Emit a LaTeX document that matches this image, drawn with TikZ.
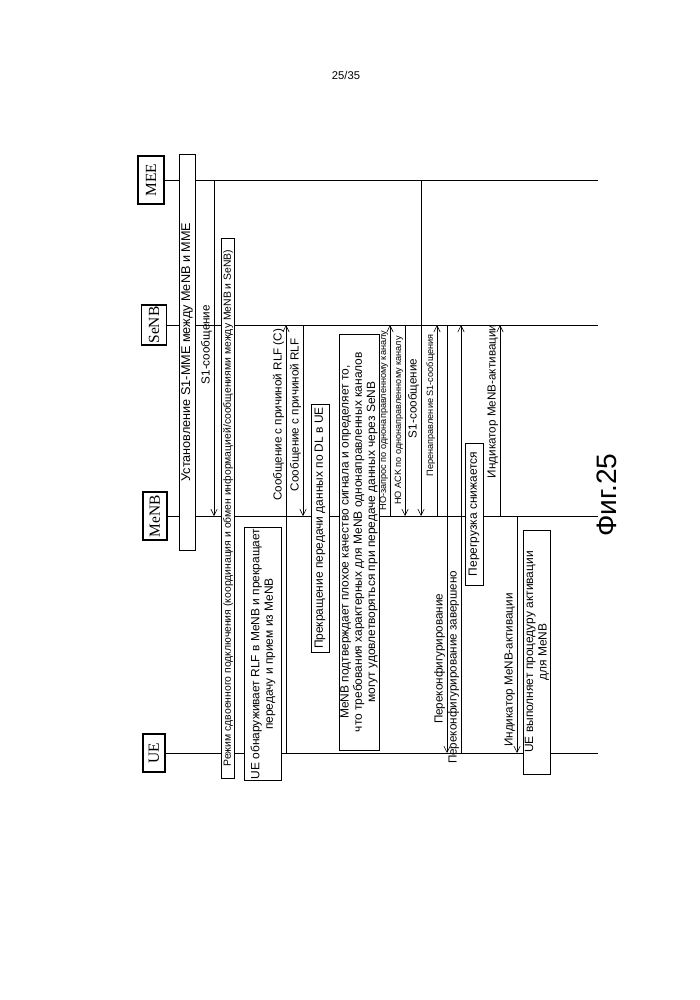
\documentclass[tikz,border=0pt]{standalone}
\usepackage{fontspec}
\setmainfont{Liberation Sans}
\newfontfamily\entfont{Liberation Serif}
\usetikzlibrary{arrows.meta}
\tikzset{
  entity/.style={draw, thick, rotate=90, font=\entfont\fontsize{11}{12}\selectfont, inner sep=1pt},
  note/.style={draw, fill=white, rotate=90, font=\fontsize{8.5}{9.5}\selectfont, inner sep=1pt, align=center},
  msg/.style={-{Straight Barb[length=1.6mm,width=1.6mm]}},
  lbl/.style={rotate=90, anchor=south, font=\fontsize{8.3}{9}\selectfont, inner sep=1.2pt},
  slbl/.style={lbl, font=\fontsize{6.5}{7}\selectfont}
}
\begin{document}
\begin{tikzpicture}[x=0.025cm, y=-0.025cm]
  \useasboundingbox (0,0) rectangle (699,1000);
  \node (page) at (346,75) {\fontsize{8}{9}\selectfont 25/35};

  % Entities
  \node[entity, minimum width=0.95cm, minimum height=0.55cm] (ue) at (154,753) {UE};
  \node[entity, minimum width=1.2cm, minimum height=0.6cm] (menb) at (155,516) {MeNB};
  \node[entity, minimum width=1.0cm, minimum height=0.62cm] (senb) at (154,325) {SeNB};
  \node[entity, minimum width=1.2cm, minimum height=0.65cm] (mme) at (151,180) {MEE};

  % Lifelines
  \draw (ue.south) -- (598,753);
  \draw (menb.south) -- (598,516);
  \draw (senb.south) -- (598,325);
  \draw (mme.south) -- (598,180);

  % Notes
  \node[note, minimum width=9.9cm, minimum height=0.4cm] (setup) at (187,352) {\fontsize{9}{10}\selectfont Установление S1-MME между MeNB и MME};
  \node[note, minimum width=13.5cm, minimum height=0.3cm, font=\fontsize{7.4}{8.5}\selectfont] (dc) at (228,508) {Режим сдвоенного подключения (координация и обмен информацией/сообщениями между MeNB и SeNB)};
  \node[note, minimum width=6.2cm, minimum height=0.92cm] (detect) at (263,654) {UE обнаруживает RLF в MeNB и прекращает\\передачу и прием из MeNB};
  \node[note, minimum width=6.2cm, minimum height=0.45cm] (stop) at (320,528) {Прекращение передачи данных по DL в UE};
  \node[note, minimum width=10.4cm, minimum height=0.95cm] (confirm) at (359,542) {MeNB подтверждает плохое качество сигнала и определяет то,\\что требования характерных для MeNB однонаправленных каналов\\могут удовлетворяться при передаче данных через SeNB};
  \node[note, minimum width=3.55cm, minimum height=0.45cm] (relief) at (474,514) {Перегрузка снижается};
  \node[note, minimum width=6.1cm, minimum height=0.68cm] (activ) at (537,652) {UE выполняет процедуру активации\\для MeNB};

  % Messages
  \draw[msg] (214,0 |- mme) -- node[lbl, pos=0.49] {S1-сообщение} (214,0 |- menb);
  \draw[msg] (286,0 |- ue) -- node[lbl, pos=0.79] {Сообщение с причиной RLF (C)} (286,0 |- senb);
  \draw[msg] (303,0 |- senb) -- node[lbl, pos=0.47] {Сообщение с причиной RLF} (303,0 |- menb);
  \draw[msg] (390,0 |- menb) -- node[slbl, pos=0.5] {HO-запрос по однонаправленному каналу} (390,0 |- senb);
  \draw[msg] (405,0 |- senb) -- node[slbl, pos=0.5] {HO ACK по однонаправленному каналу} (405,0 |- menb);
  \draw[msg] (421,0 |- mme) -- node[lbl, pos=0.65] {S1-сообщение} (421,0 |- menb);
  \draw[msg] (437,0 |- menb) -- node[slbl, pos=0.58] {Перенаправление S1-сообщения} (437,0 |- senb);
  \draw[msg] (447,0 |- senb) -- node[lbl, pos=0.78] {Переконфигурирование} (447,0 |- ue);
  \draw[msg] (461,0 |- ue) -- node[lbl, pos=0.2] {Переконфигурирование завершено} (461,0 |- senb);
  \draw[msg] (500,0 |- menb) -- node[lbl, pos=0.6] {Индикатор MeNB-активации} (500,0 |- senb);
  \draw[msg] (517,0 |- menb) -- node[lbl, pos=0.65] {Индикатор MeNB-активации} (517,0 |- ue);

  \node[rotate=90, font=\fontsize{20}{22}\selectfont] (fig) at (607,495) {Фиг.25};
\end{tikzpicture}
\end{document}
